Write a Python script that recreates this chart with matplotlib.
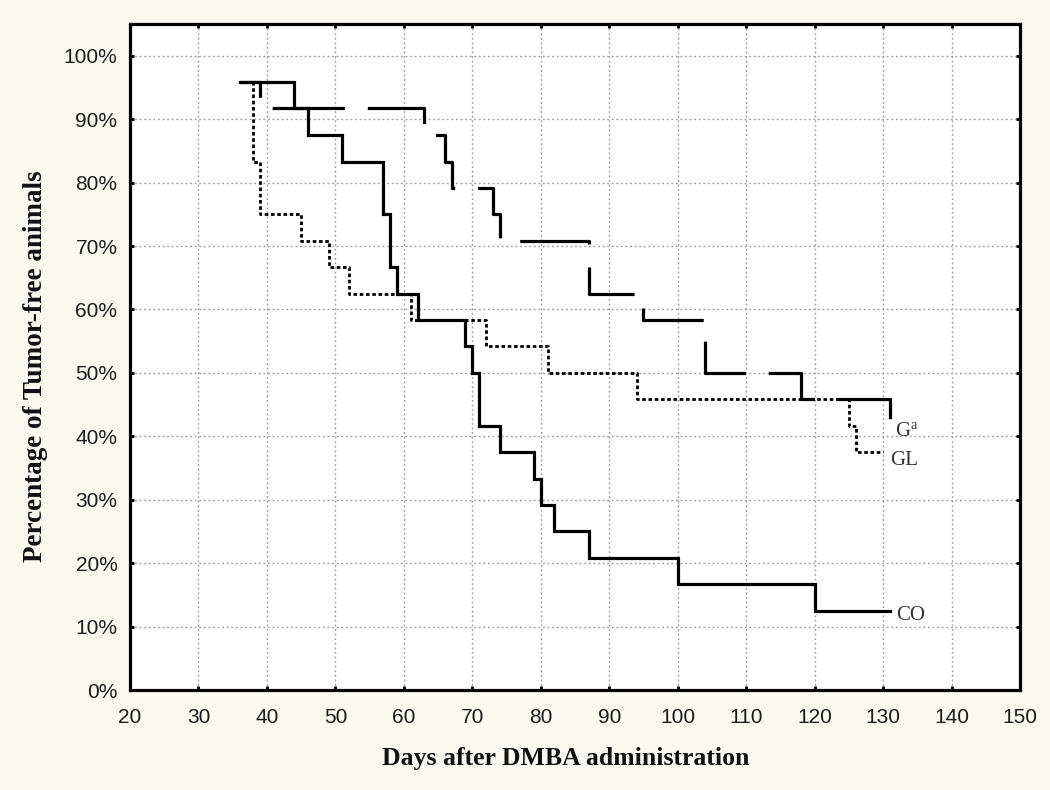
import matplotlib
matplotlib.use("Agg")
import matplotlib.pyplot as plt
from matplotlib.ticker import FuncFormatter

# ---- data (days, % tumor-free) ----
days_co = [36, 44, 46, 51, 57, 58, 59, 62, 69, 70, 71, 74, 79, 80, 82, 87, 100, 120, 131]
surv_co = [95.8, 91.7, 87.5, 83.3, 75.0, 66.7, 62.5, 58.3, 54.2, 50.0, 41.7, 37.5,
           33.3, 29.2, 25.0, 20.8, 16.7, 12.5, 12.5]

days_gl = [36, 38, 39, 45, 49, 52, 61, 72, 81, 94, 125, 126, 130]
surv_gl = [95.8, 83.3, 75.0, 70.8, 66.7, 62.5, 58.3, 54.2, 50.0, 45.8, 41.7, 37.5, 37.5]

days_ga = [36, 39, 63, 66, 67, 73, 74, 87, 95, 104, 118, 131]
surv_ga = [95.8, 91.7, 87.5, 83.3, 79.2, 75.0, 70.8, 62.5, 58.3, 50.0, 45.8, 41.7]

label_co = "CO"
label_gl = "GL"
label_ga = r"G$^{\mathrm{a}}$"

x_ticks = list(range(20, 151, 10))
y_ticks = list(range(0, 101, 10))
x_label = "Days after DMBA administration"
y_label = "Percentage of Tumor-free animals"

# ---- style ----
plt.rcParams["lines.scale_dashes"] = False
plt.rcParams["mathtext.fontset"] = "custom"
plt.rcParams["mathtext.rm"] = "Liberation Serif"
plt.rcParams["mathtext.it"] = "Liberation Serif:italic"

W, H = 1050, 790
fig = plt.figure(figsize=(W / 100, H / 100), dpi=100)
fig.patch.set_facecolor("#faf8f0")
ax = fig.add_axes([130 / W, 1 - 690 / H, 890 / W, 666 / H])
ax.set_facecolor("white")

lw = 2.3
ax.step(days_gl, surv_gl, where="post", color="black", lw=2.0,
        linestyle=(0, (2.6, 1.9)), zorder=3)
ax.step(days_ga, surv_ga, where="post", color="black", lw=lw,
        linestyle=(26.6, (52, 16.5)), zorder=4)
ax.step(days_co, surv_co, where="post", color="black", lw=lw,
        solid_joinstyle="miter", zorder=5)

ax.set_xlim(20, 150)
ax.set_ylim(0, 105)
ax.set_xticks(x_ticks)
ax.set_yticks(y_ticks)
ax.yaxis.set_major_formatter(FuncFormatter(lambda v, p: f"{int(round(v))}%"))
ax.grid(True, color="#9c9c9c", lw=1.0, linestyle=(0, (1.3, 2.0)), zorder=1)

for s in ax.spines.values():
    s.set_linewidth(2.3)
    s.set_color("black")
ax.tick_params(direction="in", length=3, width=2, top=True, right=True,
               labelsize=15, colors="black", labelcolor="#1c1c1c",
               labelfontfamily="Liberation Sans")
ax.tick_params(axis="x", pad=13)
ax.tick_params(axis="y", pad=9)

# curve end labels
txt_kw = dict(fontfamily="Liberation Serif", fontsize=15, color="#333333",
              va="center", ha="left")
ax.text(131.7, 40.8, label_ga, **txt_kw)
ax.text(131.0, 36.2, label_gl, **txt_kw)
ax.text(131.9, 11.8, label_co, **txt_kw)

fig.text(566 / W, 1 - 759 / H, x_label, fontfamily="Liberation Serif",
         fontweight="bold", fontsize=18.5, ha="center", va="center", color="#111111")
fig.text(36 / W, 1 - 366 / H, y_label, fontfamily="Liberation Serif",
         fontweight="bold", fontsize=19.5, ha="center", va="center",
         rotation=90, color="#111111")

fig.savefig("out.png", dpi=100, facecolor=fig.get_facecolor())
